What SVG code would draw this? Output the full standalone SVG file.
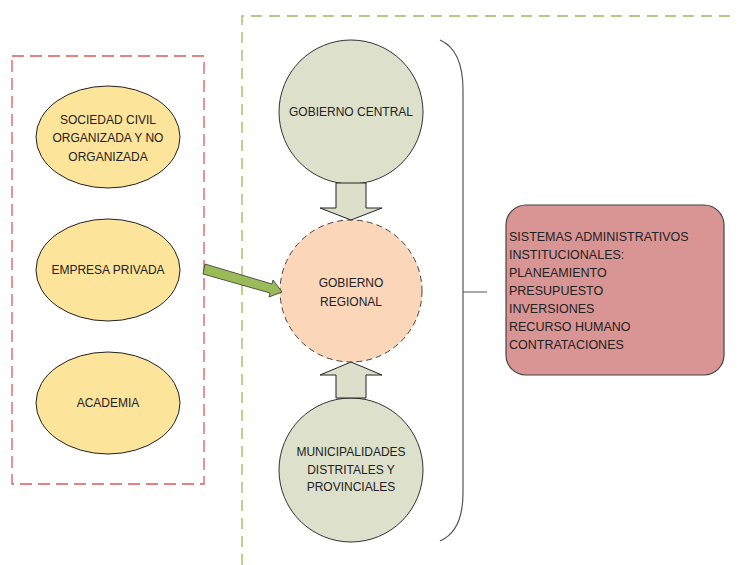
<svg xmlns="http://www.w3.org/2000/svg" width="737" height="565" viewBox="0 0 737 565">
  <style>
    text { font-family: "Liberation Sans", Arial, sans-serif; font-size: 12.5px; fill: #222; }
    .c { text-anchor: middle; font-size: 12px; }
    .actor { fill: #fde49b; stroke: #222; stroke-width: 1; }
    .gov { fill: #dde1cb; stroke: #333; stroke-width: 1; }
    .reg { fill: #fbd6b8; stroke: #444; stroke-width: 1; stroke-dasharray: 6 4; }
    .block { fill: #dddfcb; stroke: #222; stroke-width: 1; }
  </style>

  <!-- background -->
  <rect width="737" height="565" fill="#fff"/>

  <!-- grouping frames -->
  <g id="frames" fill="none">
    <rect x="12" y="56" width="192" height="428" stroke="#dd5a55" stroke-width="1.3" stroke-dasharray="12 6"/>
    <path d="M242,565 L242,16 L737,16" stroke="#9bbb59" stroke-width="1.3" stroke-dasharray="11 7"/>
  </g>

  <!-- actors -->
  <g id="sociedad">
    <ellipse class="actor" cx="108" cy="137" rx="72" ry="51"/>
    <text class="c" x="108" y="124">SOCIEDAD CIVIL</text>
    <text class="c" x="108" y="142">ORGANIZADA Y NO</text>
    <text class="c" x="108" y="161">ORGANIZADA</text>
  </g>
  <g id="empresa">
    <ellipse class="actor" cx="108" cy="270" rx="72" ry="51"/>
    <text class="c" x="108" y="274">EMPRESA PRIVADA</text>
  </g>
  <g id="academia">
    <ellipse class="actor" cx="108" cy="403" rx="72" ry="51"/>
    <text class="c" x="108" y="407">ACADEMIA</text>
  </g>

  <!-- government levels -->
  <g id="gobierno-central">
    <circle class="gov" cx="351" cy="112" r="72"/>
    <text class="c" x="351" y="116">GOBIERNO CENTRAL</text>
  </g>
  <g id="gobierno-regional">
    <circle class="reg" cx="351" cy="291" r="71"/>
    <text class="c" x="351" y="287">GOBIERNO</text>
    <text class="c" x="351" y="306">REGIONAL</text>
  </g>
  <g id="municipalidades">
    <circle class="gov" cx="351" cy="470" r="72"/>
    <text class="c" x="351" y="456">MUNICIPALIDADES</text>
    <text class="c" x="351" y="474">DISTRITALES Y</text>
    <text class="c" x="351" y="491">PROVINCIALES</text>
  </g>

  <!-- administrative systems -->
  <g id="sistemas">
    <rect x="506" y="205" width="218" height="170" rx="20" ry="20" fill="#d99594" stroke="#444" stroke-width="1.2"/>
    <text x="509" y="241">SISTEMAS ADMINISTRATIVOS</text>
    <text x="509" y="259">INSTITUCIONALES:</text>
    <text x="509" y="277">PLANEAMIENTO</text>
    <text x="509" y="295">PRESUPUESTO</text>
    <text x="509" y="313">INVERSIONES</text>
    <text x="509" y="331">RECURSO HUMANO</text>
    <text x="509" y="349">CONTRATACIONES</text>
  </g>

  <!-- connectors -->
  <g id="connectors">
    <path class="block" d="M336,183 L366,183 L366,208 L382,208 L351,220 L320,208 L336,208 Z"/>
    <path class="block" d="M336,398 L366,398 L366,375 L382,375 L351,362 L320,375 L336,375 Z"/>
    <path d="M205,264 L272,284 L273,280 L282,292 L269,297 L270,293 L203,274 Z" fill="#9bbb59" stroke="#333" stroke-width="0.8"/>
    <path d="M440,40 Q463,50 463,90 L463,493 Q463,531 440,541 M463,292 L487,292" fill="none" stroke="#555" stroke-width="1.2"/>
  </g>
</svg>
